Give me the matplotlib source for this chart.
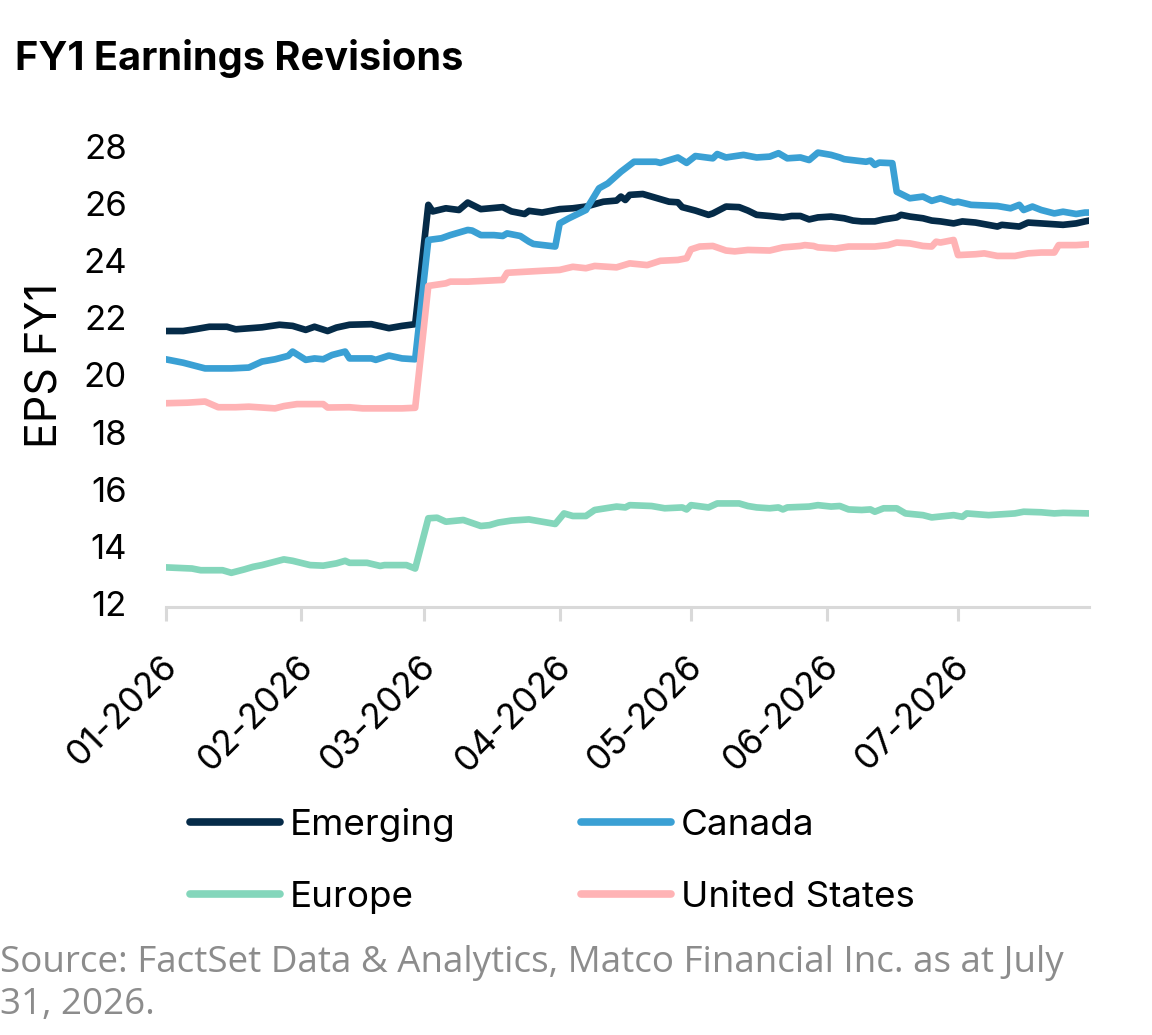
import matplotlib
matplotlib.use("Agg")
import matplotlib.pyplot as plt
import matplotlib.dates as mdates
import matplotlib.transforms as mtransforms
import pandas as pd

title = "FY1 Earnings Revisions"
ylabel = "EPS FY1"
source = "Source: FactSet Data & Analytics, Matco Financial Inc. as at July\n31, 2026."

emerging_dates = ["01-01","01-05","01-08","01-11","01-15","01-17","01-23","01-27","01-30","02-02","02-04","02-07","02-09","02-12","02-17","02-21","02-24","02-27",
    "03-02","03-03","03-06","03-09","03-11","03-14","03-19","03-21","03-24","03-25","03-28","04-01","04-04","04-07","04-11","04-14","04-15","04-16","04-17","04-20",
    "04-24","04-26","04-28","04-29","05-02","05-05","05-06","05-09","05-12","05-14","05-16","05-19","05-22","05-24","05-26","05-28","05-30","06-02","06-05","06-07",
    "06-09","06-12","06-14","06-17","06-18","06-20","06-23","06-25","06-27","06-30","07-02","07-05","07-10","07-11","07-15","07-17","07-20","07-25","07-28","07-30","07-31"]
emerging_eps = [21.54,21.54,21.61,21.69,21.69,21.60,21.67,21.76,21.72,21.58,21.69,21.54,21.66,21.76,21.78,21.64,21.72,21.78,
    25.96,25.73,25.84,25.78,26.04,25.81,25.88,25.73,25.64,25.75,25.69,25.81,25.84,25.90,26.07,26.11,26.25,26.13,26.31,26.34,
    26.16,26.07,26.05,25.88,25.76,25.61,25.66,25.90,25.88,25.76,25.61,25.57,25.52,25.57,25.57,25.45,25.52,25.55,25.49,25.41,
    25.38,25.38,25.45,25.52,25.61,25.55,25.49,25.41,25.38,25.31,25.38,25.34,25.20,25.26,25.20,25.34,25.31,25.26,25.31,25.38,25.41]

canada_dates = ["01-01","01-05","01-10","01-16","01-20","01-23","01-26","01-29","01-30","02-02","02-04","02-06","02-08","02-11","02-12","02-17","02-18","02-21","02-24","02-27",
    "03-02","03-05","03-07","03-09","03-11","03-12","03-14","03-17","03-19","03-20","03-23","03-25","03-26","03-31","04-01","04-03","04-07","04-10","04-12","04-15",
    "04-18","04-23","04-24","04-28","04-30","05-02","05-06","05-07","05-09","05-13","05-16","05-19","05-21","05-23","05-26","05-28","05-30","06-02","06-04","06-05",
    "06-10","06-11","06-12","06-13","06-16","06-17","06-20","06-23","06-25","06-27","06-30","07-01","07-04","07-10","07-13","07-15","07-16","07-18","07-20","07-23",
    "07-25","07-28","07-30","07-31"]
canada_eps = [20.55,20.43,20.23,20.23,20.26,20.47,20.55,20.67,20.82,20.53,20.58,20.55,20.70,20.82,20.58,20.58,20.53,20.68,20.58,20.55,
    24.73,24.79,24.90,24.99,25.08,25.06,24.90,24.90,24.87,24.96,24.87,24.67,24.59,24.50,25.31,25.48,25.78,26.54,26.71,27.12,
    27.47,27.47,27.43,27.62,27.43,27.67,27.59,27.74,27.62,27.71,27.62,27.65,27.77,27.59,27.62,27.53,27.79,27.71,27.62,27.56,
    27.47,27.51,27.36,27.44,27.42,26.42,26.19,26.25,26.10,26.19,26.04,26.07,25.96,25.92,25.84,25.96,25.78,25.90,25.78,25.66,
    25.72,25.64,25.69,25.69]

europe_dates = ["01-01","01-07","01-09","01-14","01-16","01-19","01-21","01-23","01-28","01-30","02-03","02-06","02-09","02-11","02-12","02-16","02-19","02-20","02-25","02-27",
    "03-02","03-04","03-06","03-10","03-14","03-16","03-18","03-21","03-25","03-28","03-31","04-02","04-04","04-07","04-09","04-14","04-16","04-17","04-22","04-25",
    "04-29","04-30","05-01","05-05","05-07","05-12","05-14","05-16","05-19","05-21","05-22","05-23","05-28","05-30","06-02","06-04","06-06","06-09","06-11","06-12",
    "06-14","06-17","06-19","06-23","06-25","06-30","07-02","07-03","07-08","07-14","07-16","07-20","07-23","07-25","07-31"]
europe_eps = [13.26,13.22,13.16,13.16,13.07,13.19,13.28,13.34,13.54,13.49,13.34,13.32,13.40,13.49,13.42,13.42,13.31,13.34,13.34,13.22,
    14.98,15.00,14.86,14.92,14.71,14.74,14.83,14.90,14.94,14.86,14.78,15.15,15.06,15.06,15.27,15.39,15.36,15.44,15.41,15.33,
    15.36,15.29,15.44,15.36,15.50,15.50,15.41,15.36,15.33,15.36,15.29,15.36,15.39,15.44,15.39,15.41,15.29,15.27,15.29,15.21,
    15.33,15.33,15.15,15.09,15.01,15.09,15.03,15.15,15.09,15.15,15.21,15.19,15.15,15.17,15.15]

us_dates = ["01-01","01-06","01-10","01-13","01-17","01-20","01-26","01-28","01-31","02-03","02-06","02-07","02-12","02-15","02-24","02-27",
    "03-02","03-06","03-07","03-11","03-19","03-20","03-28","04-01","04-04","04-07","04-09","04-14","04-17","04-21","04-24","04-28","04-30",
    "05-01","05-03","05-06","05-09","05-11","05-14","05-19","05-22","05-26","05-27","05-29","05-30","06-03","06-06","06-12","06-15","06-17",
    "06-20","06-23","06-25","06-26","06-27","06-30","07-01","07-05","07-07","07-10","07-14","07-17","07-20","07-23","07-24","07-28","07-31"]
us_eps = [19.01,19.03,19.07,18.87,18.87,18.89,18.83,18.91,18.98,18.98,18.98,18.86,18.87,18.83,18.83,18.85,
    23.12,23.21,23.27,23.27,23.33,23.58,23.65,23.68,23.79,23.74,23.82,23.77,23.91,23.85,24.00,24.03,24.09,
    24.40,24.50,24.52,24.36,24.33,24.38,24.36,24.47,24.52,24.55,24.52,24.47,24.43,24.50,24.50,24.55,24.64,
    24.61,24.52,24.50,24.67,24.64,24.73,24.20,24.23,24.26,24.17,24.17,24.26,24.29,24.29,24.55,24.55,24.58]

series_names = ["Emerging", "Canada", "Europe", "United States"]
series_colors = ["#052B48", "#3AA0D4", "#84D6BB", "#FFB3B5"]

def to_dt(lst):
    return pd.to_datetime(["2026-" + s for s in lst])

series = [(emerging_dates, emerging_eps), (canada_dates, canada_eps),
          (europe_dates, europe_eps), (us_dates, us_eps)]

plt.rcParams['font.family'] = ['Inter', 'DejaVu Sans']

fig = plt.figure(figsize=(11.52, 10.35), dpi=100)
ax = fig.add_axes([0.1438, 0.4132, 0.8018, 0.4672])

lines = {}
for name, color, (d, v) in zip(series_names, series_colors, series):
    ln, = ax.plot(to_dt(d), v, color=color, lw=4.8, solid_capstyle='round',
                  solid_joinstyle='round', label=name)
    lines[name] = ln

ax.set_xlim(pd.Timestamp("2026-01-01"), pd.Timestamp("2026-07-31"))
ax.set_ylim(11.86, 28.8)
ax.set_yticks([12, 14, 16, 18, 20, 22, 24, 26, 28])
ax.xaxis.set_major_locator(mdates.MonthLocator())
ax.xaxis.set_major_formatter(mdates.DateFormatter("%m-%Y"))

for s in ["top", "right", "left"]:
    ax.spines[s].set_visible(False)
ax.spines["bottom"].set_color("#D9D9D9")
ax.spines["bottom"].set_linewidth(2.2)
ax.tick_params(axis="y", length=0, labelsize=25, pad=28, colors="#000000")
ax.tick_params(axis="x", length=10, width=2.2, color="#D9D9D9", labelsize=25.5, pad=20)
shift = mtransforms.ScaledTranslation(-5 / 100, 0, fig.dpi_scale_trans)
for lab in ax.get_xticklabels():
    lab.set_rotation(45)
    lab.set_ha("right")
    lab.set_rotation_mode("anchor")
    lab.set_transform(lab.get_transform() + shift)

ax.set_ylabel(ylabel, fontsize=31, labelpad=13)

fig.text(0.013, 0.943, title, fontsize=28.6, fontweight="bold", ha="left", va="center")

order = ["Emerging", "Europe", "Canada", "United States"]
leg = fig.legend([lines[n] for n in order], order, ncol=2, loc="upper left",
                 bbox_to_anchor=(0.165, 0.2193), frameon=False, fontsize=26.5,
                 handlelength=2.45, handletextpad=0.27, columnspacing=3.4,
                 labelspacing=1.05, borderaxespad=0, borderpad=0)
for h in leg.get_lines():
    h.set_linewidth(5.5)

fig.text(0.0, 0.0492, source, fontsize=26.5, color="#8C8C8C", ha="left", va="center",
         family=["Open Sans", "DejaVu Sans"], linespacing=1.23)

fig.savefig("out.png", dpi=100)
